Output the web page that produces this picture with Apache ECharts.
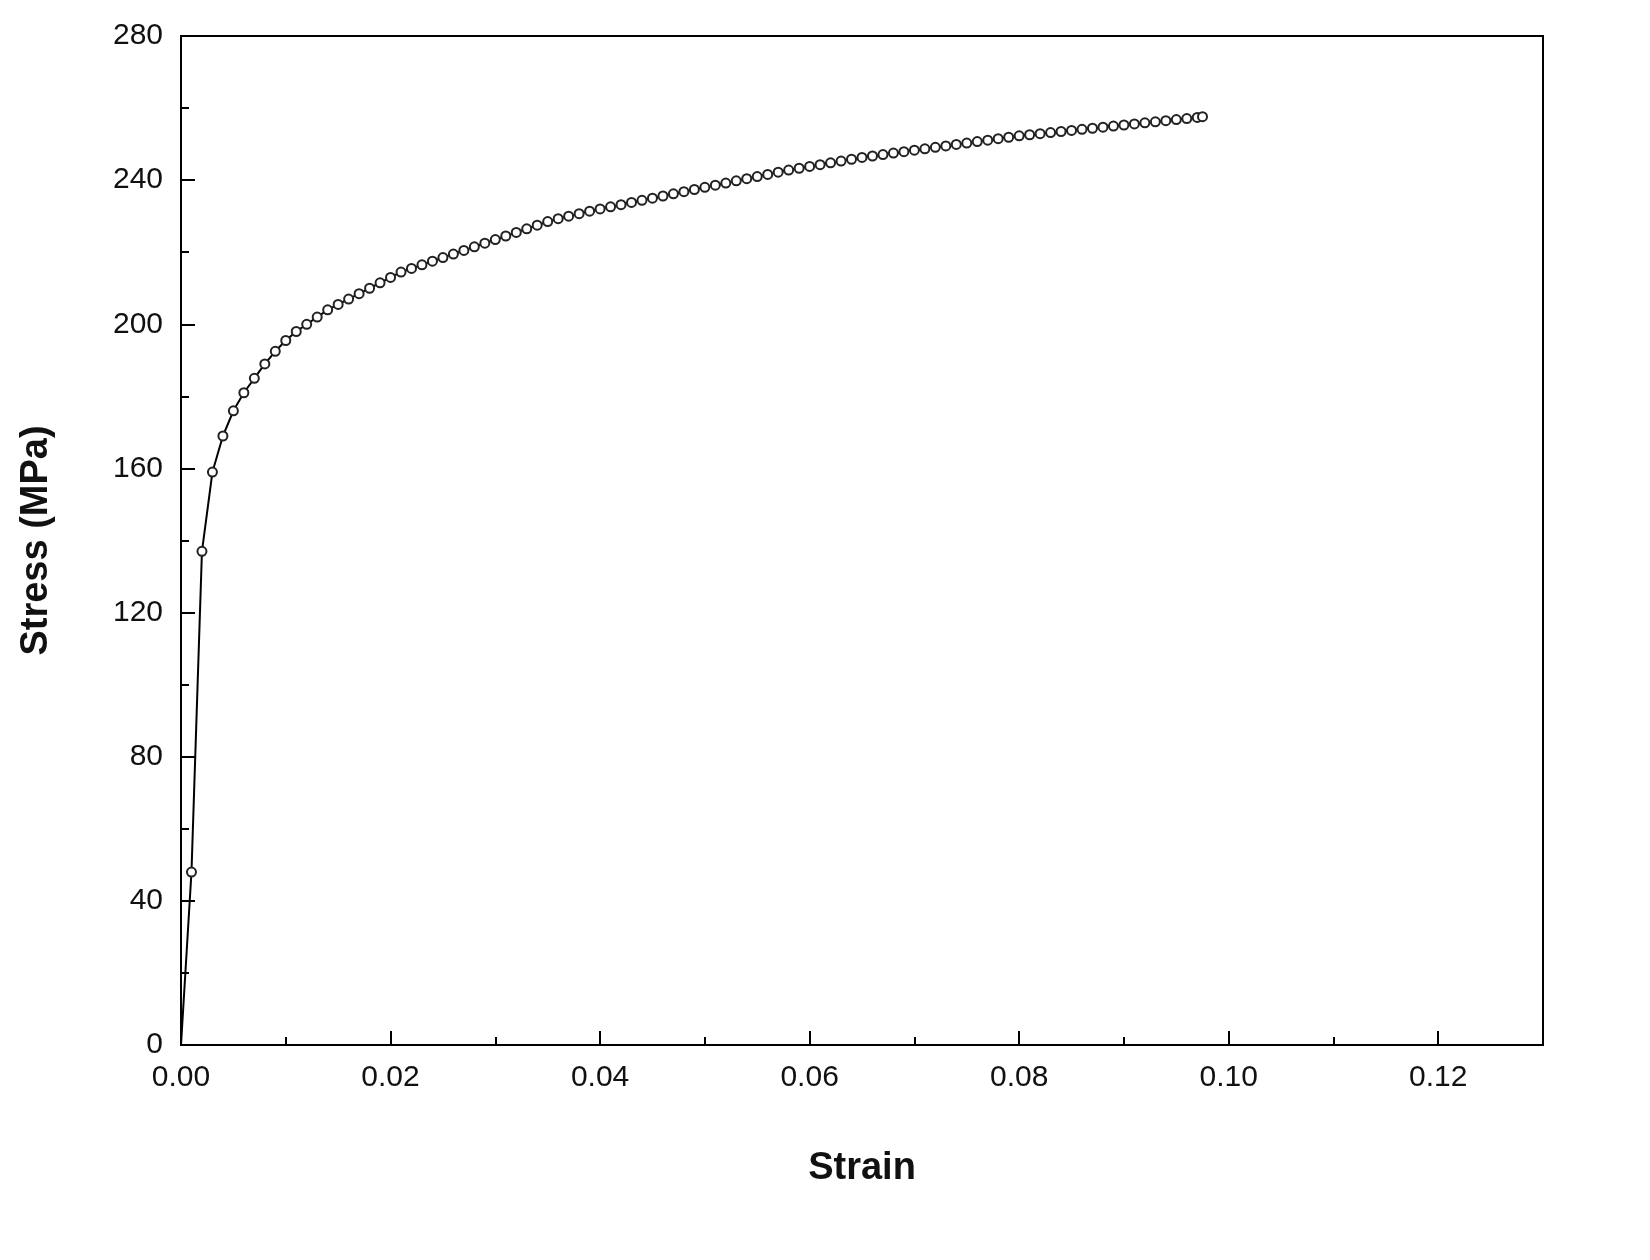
<!DOCTYPE html>
<html>
<head>
<meta charset="utf-8">
<script src="https://cdn.jsdelivr.net/npm/echarts@6/dist/echarts.min.js"></script>
<style>html,body{margin:0;padding:0;background:#fff}#c{width:1650px;height:1260px}</style>
</head>
<body>
<div id="c"></div>
<script>
var strain = [0,0.001,0.002,0.003,0.004,0.005,0.006,0.007,0.008,0.009,
  0.010,0.011,0.012,0.013,0.014,0.015,0.016,0.017,0.018,0.019,
  0.020,0.021,0.022,0.023,0.024,0.025,0.026,0.027,0.028,0.029,
  0.030,0.031,0.032,0.033,0.034,0.035,0.036,0.037,0.038,0.039,
  0.040,0.041,0.042,0.043,0.044,0.045,0.046,0.047,0.048,0.049,
  0.050,0.051,0.052,0.053,0.054,0.055,0.056,0.057,0.058,0.059,
  0.060,0.061,0.062,0.063,0.064,0.065,0.066,0.067,0.068,0.069,
  0.070,0.071,0.072,0.073,0.074,0.075,0.076,0.077,0.078,0.079,
  0.080,0.081,0.082,0.083,0.084,0.085,0.086,0.087,0.088,0.089,
  0.090,0.091,0.092,0.093,0.094,0.095,0.096,0.097,0.0975];
var stress = [0,48,137,159,169,176,181,185,189,192.5,
  195.5,198,200,202,204,205.5,207,208.5,210,211.5,
  213,214.5,215.5,216.5,217.5,218.5,219.5,220.5,221.5,222.5,
  223.5,224.5,225.5,226.5,227.5,228.5,229.3,230,230.7,231.4,
  232,232.6,233.2,233.8,234.4,235,235.6,236.2,236.8,237.4,
  238,238.6,239.2,239.8,240.4,241,241.6,242.2,242.8,243.3,
  243.8,244.3,244.8,245.3,245.8,246.3,246.7,247.1,247.5,247.9,
  248.3,248.7,249.1,249.5,249.9,250.3,250.7,251.1,251.5,251.9,
  252.3,252.6,252.9,253.2,253.5,253.8,254.1,254.4,254.7,255,
  255.3,255.6,255.9,256.2,256.5,256.8,257.1,257.4,257.6];

var chart = echarts.init(document.getElementById('c'));
var font = 'Liberation Sans, Arial, sans-serif';

chart.setOption({
    animation: false,
    grid: {
        left: 181, right: 107, top: 36, bottom: 215,
        show: true, borderColor: '#000', borderWidth: 2
    },
    xAxis: {
        type: 'value', min: 0, max: 0.13, interval: 0.02,
        name: 'Strain', nameLocation: 'middle', nameGap: 105,
        nameTextStyle: {fontFamily: font, fontSize: 38, fontWeight: 'bold', color: '#111'},
        axisLine: {lineStyle: {color: '#000', width: 2}},
        axisTick: {inside: true, length: 14, lineStyle: {color: '#000', width: 2}},
        minorTick: {show: true, splitNumber: 2, length: 8, lineStyle: {color: '#000', width: 2}},
        splitLine: {show: false},
        axisLabel: {fontFamily: font, fontSize: 30, color: '#111', margin: 18, showMaxLabel: false,
            formatter: function (v) { return v.toFixed(2); }}
    },
    yAxis: {
        type: 'value', min: 0, max: 280, interval: 40,
        name: 'Stress (MPa)', nameLocation: 'middle', nameGap: 125,
        nameTextStyle: {fontFamily: font, fontSize: 38, fontWeight: 'bold', color: '#111'},
        axisLine: {lineStyle: {color: '#000', width: 2}},
        axisTick: {inside: true, length: 14, lineStyle: {color: '#000', width: 2}},
        minorTick: {show: true, splitNumber: 2, length: 8, lineStyle: {color: '#000', width: 2}},
        splitLine: {show: false},
        axisLabel: {fontFamily: font, fontSize: 30, color: '#111', margin: 18}
    },
    series: [{
        type: 'line',
        data: strain.map(function (s, i) {
            return i === 0 ? {value: [s, stress[i]], symbol: 'none'} : [s, stress[i]];
        }),
        symbol: 'emptyCircle', symbolSize: 9,
        showSymbol: true,
        lineStyle: {color: '#000', width: 2},
        itemStyle: {color: '#222', borderWidth: 1.5}
    }]
});
</script>
</body>
</html>
